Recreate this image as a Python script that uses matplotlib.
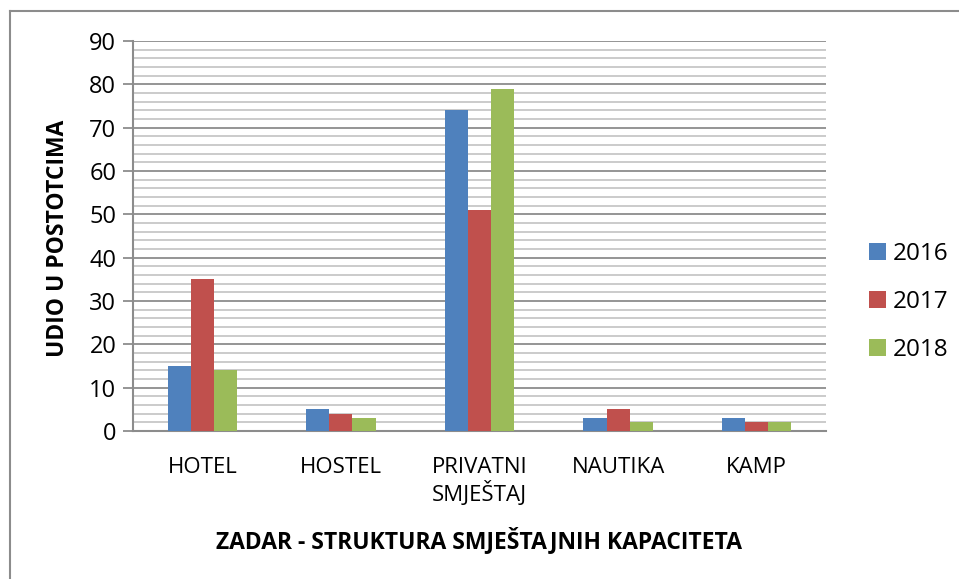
import matplotlib.pyplot as plt
import numpy as np
from matplotlib.lines import Line2D

plt.rcParams['font.family'] = ['Open Sans', 'DejaVu Sans']

categories = ['HOTEL', 'HOSTEL', 'PRIVATNI\nSMJEŠTAJ', 'NAUTIKA', 'KAMP']
years = ['2016', '2017', '2018']
v2016 = [15, 5, 74, 3, 3]
v2017 = [35, 4, 51, 5, 2]
v2018 = [14, 3, 79, 2, 2]
colors = ['#4f81bd', '#c0504d', '#9bbb59']

fig = plt.figure(figsize=(9.59, 5.79), dpi=100)
ax = fig.add_axes([0.1387, 0.2556, 0.7226, 0.6736])

x = np.arange(len(categories))
w = 1 / 6
for i, (vals, lab) in enumerate(zip([v2016, v2017, v2018], years)):
    ax.bar(x + (i - 1) * w, vals, w, color=colors[i], label=lab, zorder=3)

ax.set_xlim(-0.5, len(categories) - 0.5)
ax.set_ylim(0, 90)
ax.set_yticks(range(0, 91, 10))
ax.set_yticks(range(0, 91, 2), minor=True)
ax.grid(axis='y', which='major', color='#8c8c8c', linewidth=1.3, zorder=0)
ax.grid(axis='y', which='minor', color='#bdbdbd', linewidth=1.1, zorder=0)
ax.tick_params(axis='y', which='major', length=7, width=1.3, color='#8c8c8c', labelsize=17, pad=5)
ax.tick_params(axis='y', which='minor', length=0)
ax.set_xticks(x)
ax.set_xticklabels(categories, fontsize=16, linespacing=1.15, va='top')
ax.tick_params(axis='x', length=0, pad=19)

for s in ['top', 'right']:
    ax.spines[s].set_visible(False)
for s in ['left', 'bottom']:
    ax.spines[s].set_color('#8c8c8c')
    ax.spines[s].set_linewidth(1.5)

# y axis title placed directly (centre of the reference label)
fig.text(58 / 959, 1 - 238 / 579, 'UDIO U POSTOTCIMA', fontsize=16.5, fontweight='bold',
         rotation=90, ha='center', va='center')
ax.set_xlabel('ZADAR - STRUKTURA SMJEŠTAJNIH KAPACITETA', fontsize=16.5, fontweight='bold', labelpad=15)

ax.legend(loc='center left', bbox_to_anchor=(1.03, 0.331), frameon=False, fontsize=17.5,
          handlelength=0.7, handleheight=0.7, handletextpad=0.3, labelspacing=1.0)

# outer chart frame
fig.add_artist(Line2D([9.5 / 959, 9.5 / 959], [0, 1 - 11 / 579], color='#8c8c8c', lw=1.5, transform=fig.transFigure))
fig.add_artist(Line2D([9.5 / 959, 1], [1 - 11 / 579, 1 - 11 / 579], color='#8c8c8c', lw=1.5, transform=fig.transFigure))

plt.savefig('out.png', dpi=100)
